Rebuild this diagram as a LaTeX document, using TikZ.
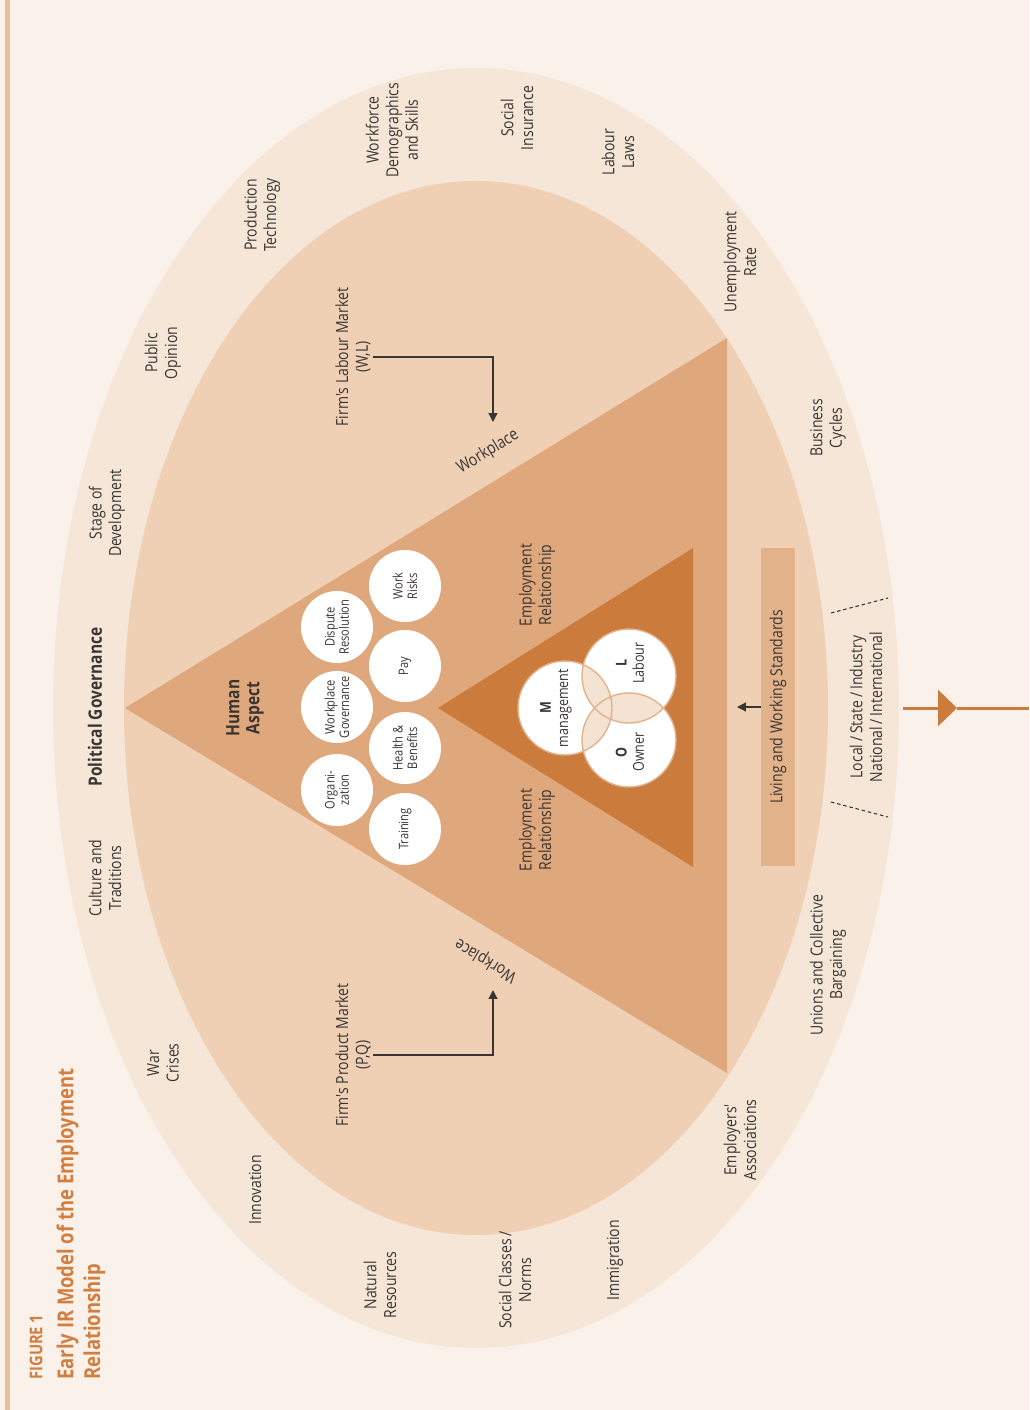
\documentclass[tikz,border=0pt]{standalone}
\usepackage{fontspec}
\newfontfamily\figfont[FakeStretch=0.84]{Open Sans}
\usetikzlibrary{shapes, arrows.meta, positioning, calc}
\definecolor{pagebg}{HTML}{FAF1EA}
\definecolor{sidebar}{HTML}{E9C09B}
\definecolor{outerring}{HTML}{F6E6D7}
\definecolor{innerring}{HTML}{EFD0B5}
\definecolor{bigtri}{HTML}{DFA87C}
\definecolor{coretri}{HTML}{CB7B3B}
\definecolor{stdbox}{HTML}{E2B28A}
\definecolor{vennline}{HTML}{E2B28C}
\definecolor{vennfill}{HTML}{F4E3D3}
\definecolor{txtgray}{HTML}{3A3533}
\definecolor{titleorange}{HTML}{D27E3F}

\tikzset{
  txt/.style={align=center, text=txtgray, inner sep=1pt, font=\figfont\fontsize{9.5}{11.2}\selectfont},
  lbl/.style={txt, rotate=90},
  boldlbl/.style={lbl, font=\figfont\bfseries\fontsize{10.5}{11.5}\selectfont},
  factor/.style={circle, fill=white, minimum size=1.44cm, inner sep=0pt, rotate=90, align=center, text=txtgray, font=\figfont\fontsize{7.5}{8.2}\selectfont},
  vennlbl/.style={lbl, font=\figfont\fontsize{8.5}{9.8}\selectfont},
  darrow/.style={draw=txtgray, line width=0.7pt, -{Triangle[length=5pt,width=5pt]}}
}

\begin{document}
\begin{tikzpicture}[x=0.02cm, y=-0.02cm]
  \useasboundingbox (0,0) rectangle (1029,1410);
  \fill[pagebg] (0,0) rectangle (1029,1410);
  \fill[sidebar] (5,0) rectangle (10,1410);

  % rings and triangles
  \fill[outerring] (476,708) ellipse [x radius=423, y radius=640];
  \fill[innerring] (476,708) ellipse [x radius=352, y radius=527];
  \fill[bigtri] (125,708) -- (727,338) -- (727,1073) -- cycle;
  \fill[coretri] (438,708) -- (693,548) -- (693,867) -- cycle;

  % outer ring factors
  \node[lbl] (prodtech) at (262,215) {Production\\Technology};
  \node[lbl] (wfdemo) at (392,130) {Workforce\\Demographics\\and Skills};
  \node[lbl] (socins) at (517,118) {Social\\Insurance};
  \node[lbl] (lablaws) at (618,152) {Labour\\Laws};
  \node[lbl] (unemp) at (740,262) {Unemployment\\Rate};
  \node[lbl] (buscyc) at (828,428) {Business\\Cycles};
  \node[lbl] (levels) at (866,707) {Local\,/\,State\,/\,Industry\\National\,/\,International};
  \node[lbl] (unions) at (828,965) {Unions and Collective\\Bargaining};
  \node[lbl] (employers) at (740,1140) {Employers'\\Associations};
  \node[lbl] (immig) at (615,1260) {Immigration};
  \node[lbl] (classes) at (515,1280) {Social Classes\,/\\Norms};
  \node[lbl] (natres) at (380,1285) {Natural\\Resources};
  \node[lbl] (innov) at (255,1190) {Innovation};
  \node[lbl] (war) at (163,1063) {War\\Crises};
  \node[lbl] (culture) at (105,878) {Culture and\\Traditions};
  \node[boldlbl] (polgov) at (95,707) {Political Governance};
  \node[lbl] (stage) at (107,513) {Stage of\\Development};
  \node[lbl] (opinion) at (163,353) {Public\\Opinion};

  \draw[txtgray, line width=0.6pt, dash pattern=on 2pt off 1.6pt] (831,613) -- (888,598);
  \draw[txtgray, line width=0.6pt, dash pattern=on 2pt off 1.6pt] (831,802) -- (888,817);

  % markets and workplace
  \node[lbl] (labmkt) at (353,357) {Firm's Labour Market\\(W,L)};
  \node[lbl] (prodmkt) at (353,1055) {Firm's Product Market\\(P,Q)};
  \node[txt, rotate=31.6] (wptop) at (488,452) {Workplace};
  \node[txt, rotate=148.8] (wpbot) at (486,960) {Workplace};
  \coordinate (wpin) at (493,422);
  \coordinate (wpout) at (493,990);
  \draw[darrow] (labmkt.south) -| (wpin);
  \draw[darrow] (prodmkt.south) -| (wpout);

  % human aspect
  \node[boldlbl] (human) at (245,708) {Human\\Aspect};
  \node[factor] (org) at (337,790) {Organi-\\zation};
  \node[factor] (wpgov) at (337,707) {Workplace\\Governance};
  \node[factor] (dispute) at (337,627) {Dispute\\Resolution};
  \node[factor] (training) at (405,829) {Training};
  \node[factor] (health) at (405,748) {Health \&\\Benefits};
  \node[factor] (pay) at (405,666) {Pay};
  \node[factor] (risks) at (405,586) {Work\\Risks};

  \node[lbl] (emprel1) at (537,585) {Employment\\Relationship};
  \node[lbl] (emprel2) at (537,830) {Employment\\Relationship};

  % M / L / O
  \coordinate (mgmt) at (565,708);
  \coordinate (lab) at (629,676);
  \coordinate (own) at (629,740);
  \foreach \c in {mgmt,lab,own}
    \fill[white] (\c) circle [radius=47];
  \begin{scope}
    \clip (mgmt) circle [radius=47];
    \fill[vennfill] (lab) circle [radius=47];
    \fill[vennfill] (own) circle [radius=47];
  \end{scope}
  \begin{scope}
    \clip (lab) circle [radius=47];
    \fill[vennfill] (own) circle [radius=47];
  \end{scope}
  \foreach \c in {mgmt,lab,own}
    \draw[vennline, line width=0.8pt] (\c) circle [radius=47];
  \node[vennlbl] (mtxt) at (556,708) {\textbf{M}\\management};
  \node[vennlbl] (ltxt) at (630,663) {\textbf{L}\\Labour};
  \node[vennlbl] (otxt) at (630,752) {\textbf{O}\\Owner};

  % living and working standards
  \node[lbl, fill=stdbox, minimum width=6.36cm, minimum height=0.68cm, inner sep=0pt] (lws) at (778,707) {Living and Working Standards};
  \coordinate (lwsend) at (737,707);
  \draw[darrow] (lws.north) -- (lwsend);

  % outgoing arrow
  \coordinate (ringedge) at (903,708);
  \coordinate (tipmid) at (957,708);
  \coordinate (pageedge) at (1029,708);
  \draw[coretri, line width=1.7pt, -{Triangle[length=0.38cm,width=0.72cm]}] (ringedge) -- (tipmid);
  \draw[coretri, line width=1.7pt] (tipmid) -- (pageedge);

  % title
  \node[rotate=90, anchor=west, align=left, text=titleorange, inner sep=0pt, font=\figfont\bfseries\fontsize{10}{11}\selectfont] (fignum) at (36,1380) {FIGURE 1};
  \node[rotate=90, anchor=west, align=left, text=titleorange, inner sep=0pt, font=\figfont\bfseries\fontsize{12.5}{15.3}\selectfont] (figtitle) at (81,1380) {Early IR Model of the Employment\\Relationship};
\end{tikzpicture}
\end{document}
